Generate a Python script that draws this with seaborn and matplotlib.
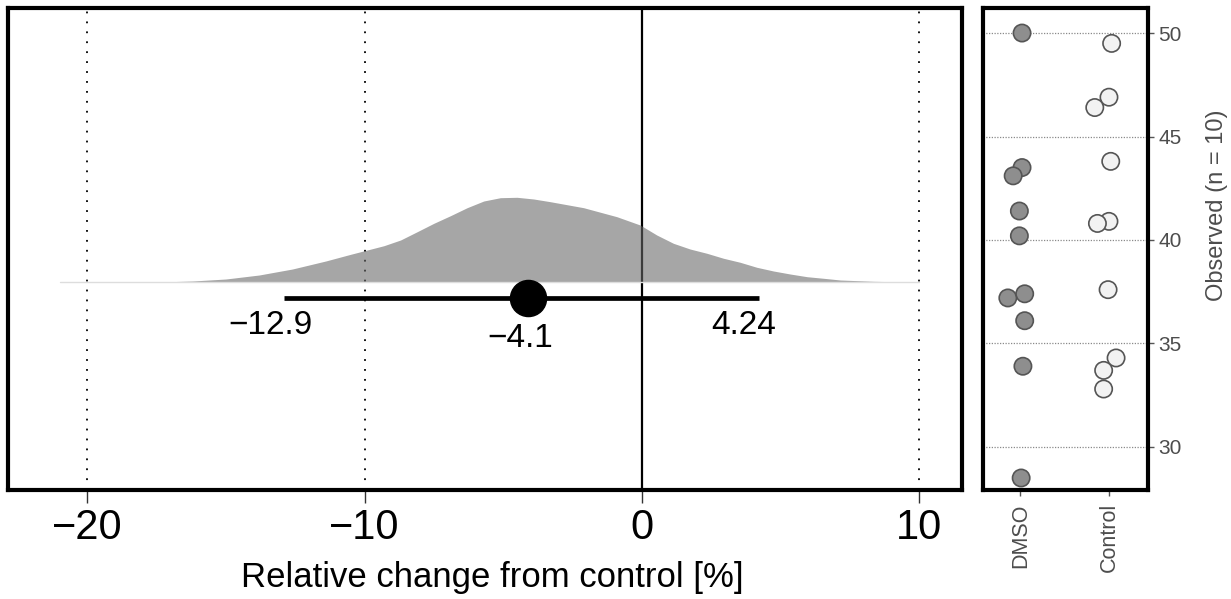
import numpy as np
import pandas as pd
import matplotlib
matplotlib.use("Agg")
import matplotlib.pyplot as plt
import seaborn as sns

# ---- data ----
# density of the bootstrap relative change (arbitrary units)
dens_x = [-21.0, -19.0, -17.4, -16.2, -15.0, -13.8, -12.6, -11.4, -10.5, -9.3, -8.7,
          -8.1, -7.5, -6.9, -6.3, -5.7, -5.1, -4.5, -3.9, -3.3, -2.1, -0.9, -0.06,
          0.54, 1.14, 1.74, 2.35, 2.95, 3.55, 4.15, 4.75, 5.35, 5.96, 6.56, 7.16,
          8.36, 9.57, 10.0]
dens_y = [0, 0.1, 0.3, 1.3, 3.3, 7.3, 13.3, 21.3, 28, 36.6, 42.3,
          50.6, 59, 66.6, 74.6, 81.3, 84.6, 85, 83.3, 80.6, 74.6, 65.6, 57.3,
          47.3, 39, 33.3, 29, 24, 20, 15, 11.3, 8.3, 5.6, 4, 2.3,
          1, 0.3, 0]

ci_low = -12.9
ci_mean = -4.1
ci_high = 4.24
ci_labels = ["\u221212.9", "\u22124.1", "4.24"]

x_ticks = [-20, -10, 0, 10]
x_tick_labels = ["\u221220", "\u221210", "0", "10"]

groups = ["DMSO", "Control"]
dmso_obs = [50.0, 43.5, 43.1, 41.4, 40.2, 37.2, 37.4, 36.1, 33.9, 28.5]
dmso_jit = [0.02, 0.02, -0.08, -0.01, -0.01, -0.14, 0.05, 0.05, 0.03, 0.01]
ctrl_obs = [49.5, 46.9, 46.4, 43.8, 40.9, 40.8, 37.6, 34.3, 33.7, 32.8]
ctrl_jit = [0.03, 0.0, -0.16, 0.02, 0.0, -0.13, -0.01, 0.08, -0.06, -0.06]
y_ticks = [30, 35, 40, 45, 50]

# ---- style ----
sns.set_theme(style="white")
plt.rcParams['font.family'] = ['Liberation Sans', 'DejaVu Sans']

W, H = 1231, 599
fig = plt.figure(figsize=(W / 100, H / 100), dpi=100)
ax1 = fig.add_axes([8 / W, 1 - 490 / H, (962 - 8) / W, 482 / H])
ax2 = fig.add_axes([983 / W, 1 - 490 / H, (1148 - 983) / W, 482 / H])

# ---- left panel ----
for v in [-20, -10, 10]:
    ax1.axvline(v, color="black", lw=1.3, ls=(0, (1, 4.5)), zorder=1)
ax1.axvline(0, color="black", lw=1.6, zorder=1)

dens_df = pd.DataFrame({"x": dens_x, "y": dens_y})
ax1.fill_between(dens_df["x"], 0, dens_df["y"], color=(0.40, 0.40, 0.40), alpha=0.58,
                 lw=0, zorder=2)
sns.lineplot(data=dens_df, x="x", y=[0] * len(dens_x), ax=ax1, color="#dddddd", lw=1, zorder=2)

ci_y = -15.7
ax1.plot([ci_low, ci_high], [ci_y, ci_y], color="black", lw=3.4, solid_capstyle="butt", zorder=3)
ax1.plot([ci_mean], [ci_y], marker="o", ms=26, color="black", zorder=4)

offs = [(-10, -20), (-6, -29.5), (-11.5, -20)]
for val, lab, (dx, dy) in zip([ci_low, ci_mean, ci_high], ci_labels, offs):
    ax1.annotate(lab, (val, ci_y), xytext=(dx, dy), textcoords="offset points",
                 ha="center", va="center", fontsize=24, color="black")

ax1.set_xlim(-22.86, 11.55)
ax1.set_ylim(-207.7, 274.3)
ax1.set_xticks(x_ticks)
ax1.set_xticklabels(x_tick_labels, fontsize=30)
ax1.set_yticks([])
ax1.tick_params(axis="x", bottom=True, length=9, width=1, color="#333333", pad=4,
                labelcolor="black")
ax1.set_xlabel("Relative change from control [%]", fontsize=25, color="black")
ax1.xaxis.label.set_va("center")
ax1.xaxis.set_label_coords((492 - 8) / 954, (490 - 578) / 482)
ax1.set_ylabel("")
for s in ax1.spines.values():
    s.set_linewidth(3)
    s.set_color("black")

# ---- right panel ----
for t in y_ticks:
    ax2.axhline(t, color="#8a8a8a", lw=0.9, ls=(0, (1, 1.2)), zorder=0)

obs_df = pd.DataFrame({
    "pos": [0 + j for j in dmso_jit] + [1 + j for j in ctrl_jit],
    "obs": dmso_obs + ctrl_obs,
    "group": [groups[0]] * len(dmso_obs) + [groups[1]] * len(ctrl_obs),
})
sns.scatterplot(data=obs_df, x="pos", y="obs", hue="group",
                palette={"DMSO": "#8e8e8e", "Control": "#f2f2f2"},
                edgecolor="#555555", linewidth=1.2, s=155, legend=False, ax=ax2, zorder=3)

ax2.set_xlim(-0.42, 1.44)
ax2.set_ylim(27.92, 51.21)
ax2.set_xticks([0, 1])
ax2.set_xticklabels(groups, rotation=90, fontsize=15.5, color="#4d4d4d")
ax2.set_xlabel("")
ax2.yaxis.tick_right()
ax2.yaxis.set_label_position("right")
ax2.set_yticks(y_ticks)
ax2.set_yticklabels([str(t) for t in y_ticks], fontsize=15, color="#4d4d4d")
ax2.tick_params(axis="y", right=True, left=False, length=4.5, width=1, color="#555555", pad=3)
ax2.tick_params(axis="x", bottom=True, length=4.5, width=1, color="#555555", pad=5)
ax2.set_ylabel("Observed (n = 10)", fontsize=17, color="#4d4d4d", rotation=90)
ax2.yaxis.label.set_va("center")
ax2.yaxis.label.set_ha("center")
ax2.yaxis.set_label_coords((1217 - 983) / 165, (490 - 205) / 482)
for s in ax2.spines.values():
    s.set_linewidth(3)
    s.set_color("black")

fig.savefig("out.png", dpi=100)
